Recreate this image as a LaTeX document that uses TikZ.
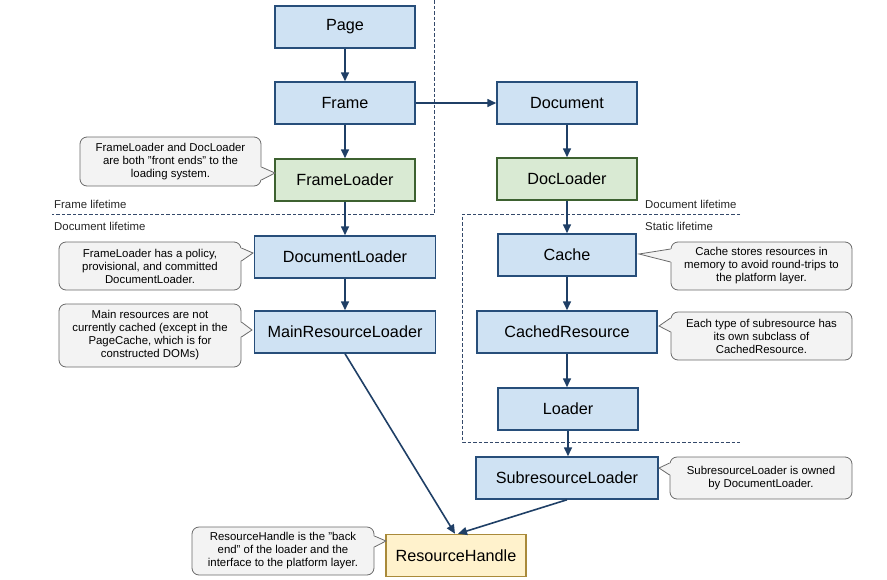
\documentclass[tikz,border=0pt]{standalone}
\usepackage{fontspec}
\setmainfont{Liberation Sans}
\usetikzlibrary{arrows.meta,calc}
\definecolor{bluefill}{HTML}{CFE2F3}
\definecolor{blueline}{HTML}{274E7A}
\definecolor{greenfill}{HTML}{D9EAD3}
\definecolor{greenline}{HTML}{3D6130}
\definecolor{yellowfill}{HTML}{FFF2CC}
\definecolor{yellowline}{HTML}{A98A3A}
\definecolor{callfill}{HTML}{F3F3F3}
\definecolor{callline}{HTML}{6A6A6A}
\definecolor{arrowcol}{HTML}{1F3F66}
\definecolor{dashcol}{HTML}{34496A}
\begin{document}
\begin{tikzpicture}[x=1pt,y=-1pt,
  basebox/.style={line width=1.5pt, minimum height=42pt, inner sep=0pt,
    font=\fontsize{16.2}{19}\selectfont},
  bluebox/.style={basebox, draw=blueline, fill=bluefill, minimum width=#1},
  greenbox/.style={basebox, draw=greenline, fill=greenfill, minimum width=#1},
  yellowbox/.style={basebox, draw=yellowline, fill=yellowfill, minimum width=#1},
  arr/.style={draw=arrowcol, line width=1.6pt, -{Triangle[length=9pt,width=8pt]}},
  callbox/.style={draw=callline, fill=callfill, line width=0.8pt, rounded corners=7pt,
    inner sep=0pt, align=center, font=\fontsize{11.4}{13}\selectfont},
  callptr/.style={draw=callline, line width=0.8pt},
  lifeline/.style={draw=dashcol, line width=0.9pt, dash pattern=on 3.5pt off 2pt},
  lifelabel/.style={anchor=west, inner sep=0pt, text=black!85, font=\fontsize{11.4}{13}\selectfont}
]
\useasboundingbox (0,0) rectangle (887,579);

% lifetime boundaries
\coordinate (v1top) at (434,0);
\coordinate (v1bot) at (434,214);
\coordinate (h1left) at (52,214);
\coordinate (s1) at (740,214);
\coordinate (s2) at (462,214);
\coordinate (s3) at (462,442);
\coordinate (s4) at (740,442);
\draw[lifeline] (v1top) -- (v1bot) -- (h1left);
\draw[lifeline] (s1) -- (s2) -- (s3) -- (s4);
\node[lifelabel] (lfl) at (54,204) {Frame lifetime};
\node[lifelabel] (ldl) at (54,226) {Document lifetime};
\node[lifelabel] (rdl) at (645,204) {Document lifetime};
\node[lifelabel] (rsl) at (645,226) {Static lifetime};

% boxes
\node[bluebox=140pt] (page) at (345,27) {Page};
\node[bluebox=140pt] (frame) at (345,103) {Frame};
\node[greenbox=140pt] (fl) at (345,180) {FrameLoader};
\node[bluebox=140pt] (doc) at (567,103) {Document};
\node[greenbox=140pt] (dcl) at (567,179) {DocLoader};
\node[bluebox=181pt] (dl) at (345,257) {DocumentLoader};
\node[bluebox=181pt] (mrl) at (345,332) {MainResourceLoader};
\node[bluebox=138pt] (cache) at (567,255) {Cache};
\node[bluebox=180pt] (cr) at (567,332) {CachedResource};
\node[bluebox=140pt] (loader) at (568,409) {Loader};
\node[bluebox=182pt] (sl) at (567,478) {SubresourceLoader};
\node[yellowbox=140pt] (rh) at (456,555.5) {ResourceHandle};

% connectors
\draw[arr] (page) -- (frame);
\draw[arr] (frame) -- (fl);
\draw[arr] (frame.east) -- (frame.east -| doc.west);
\draw[arr] (doc) -- (dcl);
\draw[arr] (fl.south) -- (fl.south |- dl.north);
\draw[arr] (dl) -- (mrl);
\draw[arr] (dcl.south) -- (dcl.south |- cache.north);
\draw[arr] (cache.south) -- (cache.south |- cr.north);
\draw[arr] (cr.south) -- (cr.south |- loader.north);
\draw[arr] (loader.south) -- (loader.south |- sl.north);
\draw[arr] (mrl.south) -- ($(rh.north)+(-1,0)$);
\draw[arr] (sl.south) -- ($(rh.north)+(2,0)$);

% callouts
\node[callbox, minimum width=181pt, minimum height=49pt] (c1) at (170.5,161.5)
  {FrameLoader and DocLoader\\are both "front ends" to the\\loading system.};
\coordinate (t1) at (275,173);
\fill[callfill] ($(c1.east)+(-1.5,5.5)$) -- (t1) -- ($(c1.east)+(-1.5,18.5)$) -- cycle;
\draw[callptr] ($(c1.east)+(0,5.5)$) -- (t1) -- ($(c1.east)+(0,18.5)$);

\node[callbox, minimum width=182pt, minimum height=48pt] (c2) at (150,266)
  {FrameLoader has a policy,\\provisional, and committed\\DocumentLoader.};
\coordinate (t2) at (253,253);
\fill[callfill] ($(c2.east)+(-1.5,-18)$) -- (t2) -- ($(c2.east)+(-1.5,-5)$) -- cycle;
\draw[callptr] ($(c2.east)+(0,-18)$) -- (t2) -- ($(c2.east)+(0,-5)$);

\node[callbox, minimum width=182pt, minimum height=63pt] (c3) at (150,335.5)
  {Main resources are not\\currently cached (except in the\\PageCache, which is for\\constructed DOMs)};
\coordinate (t3) at (252,330);
\fill[callfill] ($(c3.east)+(-1.5,-13.5)$) -- (t3) -- ($(c3.east)+(-1.5,1.5)$) -- cycle;
\draw[callptr] ($(c3.east)+(0,-13.5)$) -- (t3) -- ($(c3.east)+(0,1.5)$);

\node[callbox, minimum width=181pt, minimum height=48pt] (c4) at (761.5,266)
  {Cache stores resources in\\memory to avoid round-trips to\\the platform layer.};
\coordinate (t4) at (639,254);
\fill[callfill] ($(c4.west)+(1.5,-17)$) -- (t4) -- ($(c4.west)+(1.5,-4)$) -- cycle;
\draw[callptr] ($(c4.west)+(0,-17)$) -- (t4) -- ($(c4.west)+(0,-4)$);

\node[callbox, minimum width=181pt, minimum height=48pt] (c5) at (761.5,336)
  {Each type of subresource has\\its own subclass of\\CachedResource.};
\coordinate (t5) at (659,326);
\fill[callfill] ($(c5.west)+(1.5,-18)$) -- (t5) -- ($(c5.west)+(1.5,-4)$) -- cycle;
\draw[callptr] ($(c5.west)+(0,-18)$) -- (t5) -- ($(c5.west)+(0,-4)$);

\node[callbox, minimum width=182pt, minimum height=42pt] (c6) at (761,478)
  {SubresourceLoader is owned\\by DocumentLoader.};
\coordinate (t6) at (659,468);
\fill[callfill] ($(c6.west)+(1.5,-15)$) -- (t6) -- ($(c6.west)+(1.5,-3)$) -- cycle;
\draw[callptr] ($(c6.west)+(0,-15)$) -- (t6) -- ($(c6.west)+(0,-3)$);

\node[callbox, minimum width=182pt, minimum height=48pt] (c7) at (283,551)
  {ResourceHandle is the "back\\end" of the loader and the\\interface to the platform layer.};
\coordinate (t7) at (386,541);
\fill[callfill] ($(c7.east)+(-1.5,-15)$) -- (t7) -- ($(c7.east)+(-1.5,-4)$) -- cycle;
\draw[callptr] ($(c7.east)+(0,-15)$) -- (t7) -- ($(c7.east)+(0,-4)$);
\end{tikzpicture}
\end{document}
